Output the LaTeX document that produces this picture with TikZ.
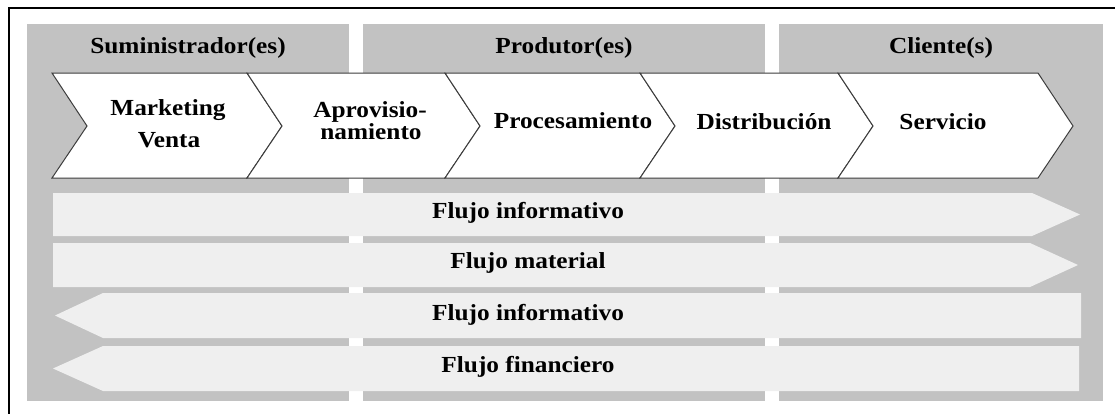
\documentclass[tikz,border=0pt]{standalone}
\usepackage{fontspec}
\setmainfont{Liberation Serif}[FakeStretch=1.1]
\definecolor{panelgray}{HTML}{C2C2C2}
\definecolor{flowgray}{HTML}{EFEFEF}
\definecolor{edgegray}{HTML}{3C3C3C}
\begin{document}
\begin{tikzpicture}[x=1pt,y=-1pt,
  lbl/.style={font=\fontsize{23}{25}\selectfont\bfseries, inner sep=0pt, anchor=base},
  panelbox/.style={fill=panelgray},
  chevbox/.style={fill=white, draw=edgegray, line width=1pt, line join=miter},
  flowbox/.style={fill=flowgray}]
\useasboundingbox (0,0) rectangle (1115,413);
\clip (0,0) rectangle (1115,413);
% outer frame
\draw[line width=1.3pt] (9,8) rectangle (1140,440);
% panels
\fill[panelbox] (27,24) rectangle (349,401);
\fill[panelbox] (363,24) rectangle (765,401);
\fill[panelbox] (779,24) rectangle (1103,401);
\node[lbl] (hsum) at (188,53) {Suministrador(es)};
\node[lbl] (hprod) at (564,53) {Produtor(es)};
\node[lbl] (hcli) at (941,53) {Cliente(s)};
% chevrons
\foreach \a/\b in {52/247, 247/445, 445/640, 640/838, 838/1038}
  \filldraw[chevbox] (\a,73) -- (\b,73) -- (\b+35,126) -- (\b,178) -- (\a,178) -- (\a+35,126) -- cycle;
\node[lbl] (mk1) at (168,115) {Marketing};
\node[lbl] (mk2) at (169,147) {Venta};
\node[lbl] (ap1) at (370,117) {Aprovisio-};
\node[lbl] (ap2) at (371,139.5) {namiento};
\node[lbl] (proc) at (573,128) {Procesamiento};
\node[lbl] (dist) at (764,129) {Distribución};
\node[lbl] (serv) at (943,129) {Servicio};
% flows
\fill[flowbox] (53,193) -- (1032,193) -- (1080,214.5) -- (1032,236) -- (53,236) -- cycle;
\fill[flowbox] (53,243) -- (1030,243) -- (1078,265) -- (1030,287) -- (53,287) -- cycle;
\fill[flowbox] (103,293) -- (1081,293) -- (1081,338) -- (103,338) -- (55,315.5) -- cycle;
\fill[flowbox] (103,346) -- (1079,346) -- (1079,391) -- (103,391) -- (53,368.5) -- cycle;
\node[lbl] (f1) at (528,218) {Flujo informativo};
\node[lbl] (f2) at (528,268) {Flujo material};
\node[lbl] (f3) at (528,320) {Flujo informativo};
\node[lbl] (f4) at (528,372) {Flujo financiero};
\end{tikzpicture}
\end{document}
